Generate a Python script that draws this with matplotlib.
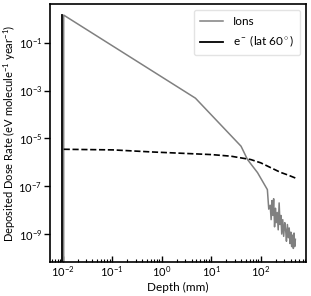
import matplotlib
matplotlib.use("Agg")
import matplotlib.pyplot as plt
from matplotlib.ticker import LogLocator, NullLocator

plt.rcParams["font.family"] = ["Lato", "DejaVu Sans"]
plt.rcParams["mathtext.fontset"] = "custom"
plt.rcParams["mathtext.rm"] = "Lato"
plt.rcParams["mathtext.it"] = "Lato:italic"

# ion dose rate profile (depth in mm)
ion_depth = [0.0105, 0.0105, 4.8, 40, 54, 86, 136, 145,
             155, 162, 168, 175, 182, 190, 198, 205, 215, 225, 235, 245,
             255, 265, 278, 290, 305, 318, 330, 345, 360, 375, 390, 405,
             420, 440, 455, 470, 485, 500]
ion_rate = [1e-11, 1.43, 4.8e-4, 4.7e-6, 1.3e-6, 3.7e-7, 7.2e-8, 1.1e-8,
            1.6e-8, 4e-9, 2.5e-8, 6e-9, 3e-8, 2e-9, 1.2e-8, 3e-9, 8e-9, 1.5e-9,
            2e-8, 2.5e-9, 6e-9, 1e-9, 4e-9, 8e-10, 3e-9, 1.5e-9, 5e-10, 2.5e-9,
            7e-10, 1.8e-9, 4e-10, 1.2e-9, 3e-10, 9e-10, 2.5e-10, 1.1e-9,
            3e-10, 6e-10]

# electron (lat 60) profile
e_depth = [0.0105, 0.1035, 0.645, 10.1, 25, 63, 100, 158, 250, 360, 500]
e_rate = [3.5e-6, 3.3e-6, 2.7e-6, 2.1e-6, 1.8e-6, 1.3e-6, 9.5e-7, 6e-7,
          3.8e-7, 2.9e-7, 2.2e-7]

# solid electron edge at the surface
edge_depth = [0.0098, 0.0098]
edge_rate = [1e-11, 1.43]

fig, ax = plt.subplots(figsize=(3.11, 2.96), dpi=100)
fig.subplots_adjust(left=0.16, right=0.984, top=0.986, bottom=0.115)

ax.plot(ion_depth, ion_rate, color="#808080", lw=1.1, label="Ions")
ax.plot(edge_depth, edge_rate, color="black", lw=1.3, label=r"e$^-$ (lat 60$^\circ$)")
ax.plot(e_depth, e_rate, color="black", lw=1.2, ls="--")

ax.set_xscale("log")
ax.set_yscale("log")
ax.set_xlim(0.0055, 820)
ax.set_ylim(6.8e-11, 4.1)

ax.set_yticks([1e-9, 1e-7, 1e-5, 1e-3, 1e-1])
ax.yaxis.set_minor_locator(NullLocator())
ax.xaxis.set_major_locator(LogLocator(base=10, numticks=10))
ax.xaxis.set_minor_locator(LogLocator(base=10, subs=range(2, 10), numticks=20))

ax.tick_params(axis="x", which="major", direction="in", length=4, width=1, labelsize=8, pad=2)
ax.tick_params(axis="x", which="minor", direction="in", length=2, width=0.8)
ax.tick_params(axis="y", which="major", direction="out", length=4, width=1, labelsize=8, pad=1.5)
for s in ax.spines.values():
    s.set_linewidth(1.2)

ax.set_xlabel("Depth (mm)", fontsize=8.5)
ax.set_ylabel(r"Deposited Dose Rate (eV molecule$^{-1}$ year$^{-1}$)", fontsize=8)
ax.xaxis.set_label_coords(0.5, -0.078)
ax.yaxis.set_label_coords(-0.125, 0.5)

ax.legend(loc="upper right", fontsize=8.5, frameon=True, fancybox=True,
          edgecolor="#dddddd", handlelength=2.0, borderpad=0.5, labelspacing=0.6)

fig.savefig("out.png", dpi=100)
